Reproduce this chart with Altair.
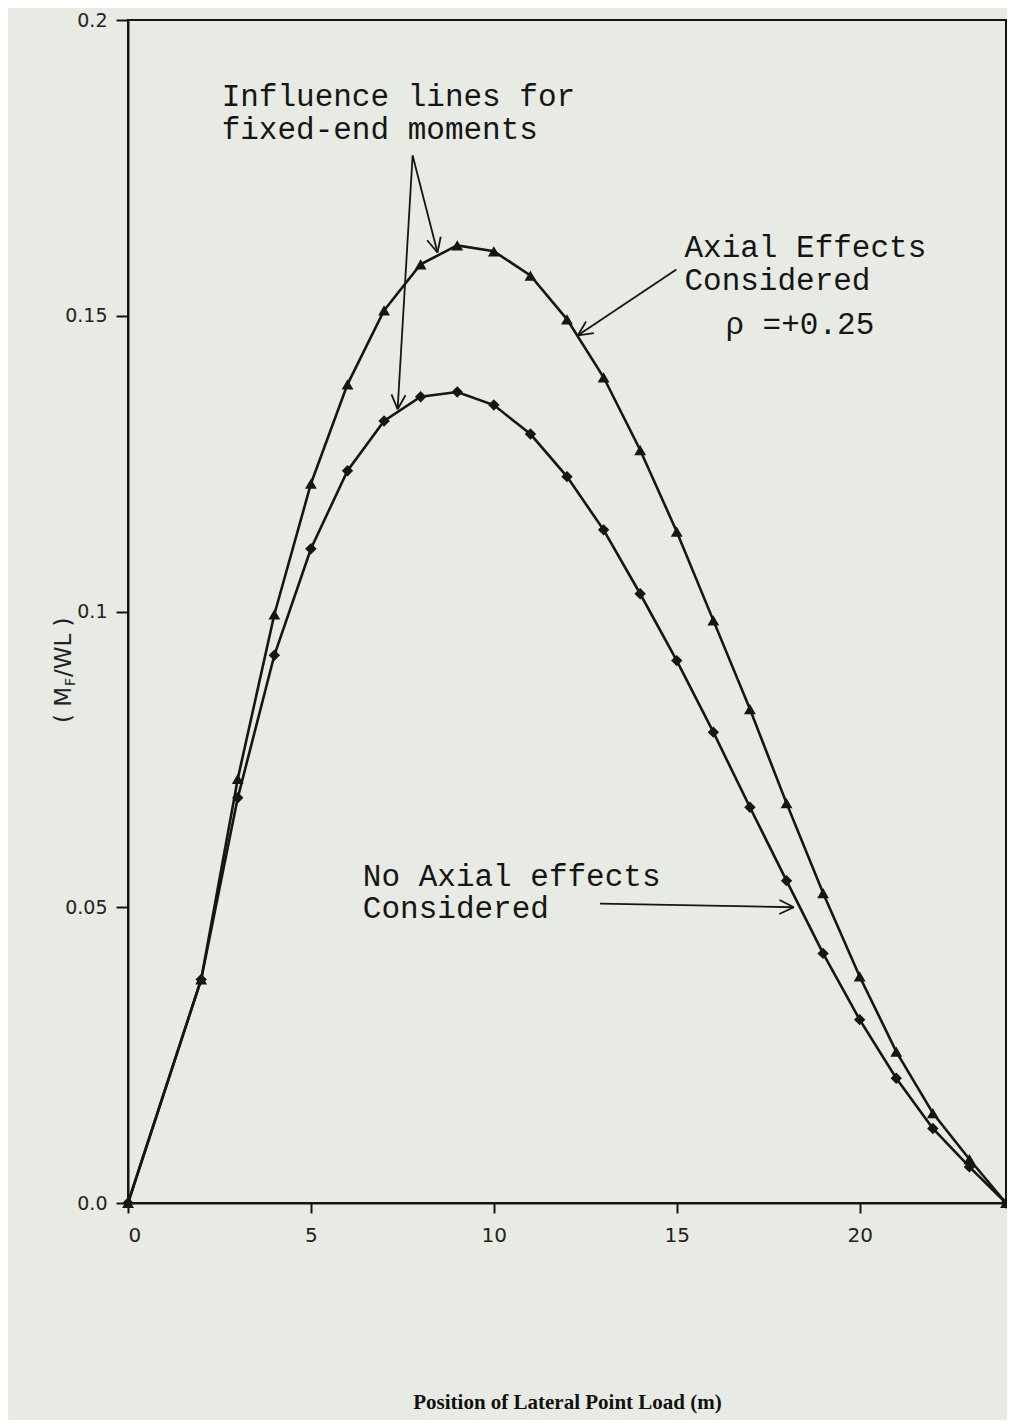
import math
import altair as alt
import pandas as pd

# ---------------- data ----------------
position = [0, 2, 3, 4, 5, 6, 7, 8, 9, 10, 11, 12, 13, 14, 15, 16, 17, 18, 19, 20, 21, 22, 23, 24]
axial = [0.0, 0.0378, 0.0717, 0.0995, 0.1216, 0.1384, 0.1509, 0.1587, 0.1619, 0.1609,
         0.1568, 0.1494, 0.1396, 0.1273, 0.1135, 0.0985, 0.0835, 0.0676, 0.0524, 0.0383,
         0.0256, 0.0152, 0.0074, 0.0]
no_axial = [0.0, 0.0378, 0.0685, 0.0926, 0.1106, 0.1238, 0.1322, 0.1363, 0.1371, 0.1349,
            0.1300, 0.1228, 0.1138, 0.1030, 0.0917, 0.0796, 0.0669, 0.0545, 0.0422, 0.0310,
            0.0211, 0.0126, 0.0061, 0.0]
x_ticks = [0, 5, 10, 15, 20]
y_ticks = [0.0, 0.05, 0.1, 0.15, 0.2]

# ---------------- layout ----------------
W, H = 878, 1183
XMAX, YMAX = 24, 0.2
PX_X = W / XMAX
PX_Y = H / YMAX
INK = "#151515"
PAPER = "#e8ebe3"
MONO = "Courier New, Liberation Mono, monospace"

df_a = pd.DataFrame({"x": position, "y": axial})
df_n = pd.DataFrame({"x": position, "y": no_axial})

xs = alt.Scale(domain=[0, XMAX], nice=False, zero=False)
ys = alt.Scale(domain=[0, YMAX], nice=False, zero=False)

xenc = alt.X("x:Q", scale=xs, axis=alt.Axis(
    values=x_ticks, title="Position of Lateral Point Load (m)", grid=False,
    tickSize=10, tickWidth=2, tickColor=INK, domainColor=INK, domainWidth=2,
    labelPadding=12, labelFont="DejaVu Sans", labelFontSize=20, labelColor="#222",
    titleFont="Liberation Serif", titleFontSize=21, titleFontWeight="bold",
    titleColor="#111", titlePadding=146))
yenc = alt.Y("y:Q", scale=ys, axis=alt.Axis(
    values=y_ticks, title=None, grid=False,
    labelExpr="datum.value == 0 ? '0.0' : toString(datum.value)",
    tickSize=12, tickWidth=2, tickColor=INK, domainColor=INK, domainWidth=2,
    labelPadding=9, labelFont="DejaVu Sans", labelFontSize=19, labelColor="#222"))

line_a = alt.Chart(df_a).mark_line(color=INK, strokeWidth=2.6).encode(x=xenc, y=yenc)
pts_a = alt.Chart(df_a).mark_point(shape="triangle-up", filled=True, color=INK, size=140, opacity=1).encode(x="x:Q", y="y:Q")
line_n = alt.Chart(df_n).mark_line(color=INK, strokeWidth=2.6).encode(x="x:Q", y="y:Q")
pts_n = alt.Chart(df_n).mark_point(shape="diamond", filled=True, color=INK, size=130, opacity=1).encode(x="x:Q", y="y:Q")

# ---------------- annotations (arrows) ----------------
def arrow(x0, y0, x1, y1, head=16, ang=26):
    """segments in data units for a line with an open arrowhead at (x1, y1)"""
    p0 = (x0 * PX_X, -y0 * PX_Y)
    p1 = (x1 * PX_X, -y1 * PX_Y)
    dx, dy = p1[0] - p0[0], p1[1] - p0[1]
    L = math.hypot(dx, dy)
    ux, uy = dx / L, dy / L
    segs = [(x0, y0, x1, y1)]
    for s in (-1, 1):
        a = math.radians(ang) * s
        bx = -(ux * math.cos(a) - uy * math.sin(a))
        by = -(ux * math.sin(a) + uy * math.cos(a))
        hx, hy = p1[0] + bx * head, p1[1] + by * head
        segs.append((x1, y1, hx / PX_X, -hy / PX_Y))
    return segs

segs = []
segs += arrow(7.78, 0.1771, 8.46, 0.1607)
segs += arrow(7.78, 0.1771, 7.37, 0.1342)
segs += arrow(14.99, 0.1578, 12.30, 0.1467)
segs += arrow(12.90, 0.0506, 18.20, 0.0500)
df_seg = pd.DataFrame(segs, columns=["x", "y", "x2", "y2"])
arrows = alt.Chart(df_seg).mark_rule(color=INK, strokeWidth=1.8).encode(
    x="x:Q", y="y:Q", x2="x2:Q", y2="y2:Q")

ann_text = ["Influence lines for", "fixed-end moments", "Axial Effects", "Considered",
            "ρ =+0.25", "No Axial effects", "Considered"]
ann_x = [2.56, 2.56, 15.21, 15.21, 16.33, 6.42, 6.42]
ann_y = [0.1855, 0.1799, 0.1599, 0.1543, 0.1469, 0.0536, 0.0481]
df_ann = pd.DataFrame({"x": ann_x, "y": ann_y, "t": ann_text})
ann = alt.Chart(df_ann).mark_text(font=MONO, fontSize=31, color=INK, align="left",
                                  baseline="alphabetic").encode(x="x:Q", y="y:Q", text="t:N")

# ---------------- rotated y title with subscript ----------------
yt1 = alt.Chart(pd.DataFrame({"t": ["( M"]})).mark_text(
    font="DejaVu Sans", fontSize=23, color="#222", angle=270, align="left", baseline="middle"
).encode(x=alt.value(-64), y=alt.value(703), text="t:N")
yt2 = alt.Chart(pd.DataFrame({"t": ["F"]})).mark_text(
    font="DejaVu Sans", fontSize=14, color="#222", angle=270, align="left", baseline="middle"
).encode(x=alt.value(-57), y=alt.value(666), text="t:N")
yt3 = alt.Chart(pd.DataFrame({"t": ["/WL )"]})).mark_text(
    font="DejaVu Sans", fontSize=23, color="#222", angle=270, align="left", baseline="middle"
).encode(x=alt.value(-64), y=alt.value(657), text="t:N")

chart = alt.layer(line_a, line_n, pts_a, pts_n, arrows, ann, yt1, yt2, yt3).properties(
    width=W, height=H,
    autosize=alt.AutoSizeParams(type="none"),
    padding={"left": 120, "top": 12, "right": 1, "bottom": 217},
    background=PAPER,
).configure_view(stroke=INK, strokeWidth=2)

chart.save("out.html", embed_options={"renderer": "svg", "actions": False})
